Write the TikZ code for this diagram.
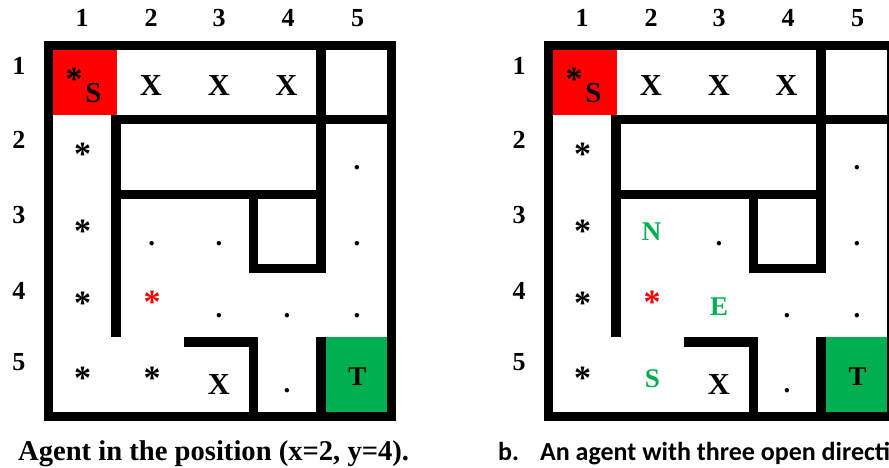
\documentclass[tikz,border=0pt]{standalone}
\usepackage{fontspec}
\setmainfont{Liberation Serif}
\newfontfamily\calfont{Carlito}
\definecolor{cellred}{HTML}{FF0000}
\definecolor{cellgreen}{HTML}{00B050}

\tikzset{
  wall/.style={fill=black},
  frame/.style={draw=black, line width=9.6pt},
  axislabel/.style={inner sep=0pt, font=\fontsize{26}{26}\selectfont\bfseries},
  glyph/.style={inner sep=0pt, font=\fontsize{27}{27}\selectfont\bfseries},
  bigx/.style={glyph, font=\fontsize{30.5}{30.5}\selectfont\bfseries},
  star/.style={glyph, anchor=north, font=\fontsize{34}{34}\selectfont\bfseries},
  caption/.style={inner sep=0pt, anchor=base west},
}

% One 5x5 maze with its walls, start/goal cells and the marks shared by both panels.
\newcommand\drawmaze[1]{%
  % start and goal cells
  \fill[cellred] (53.3,50) rectangle (116.7,115);
  \fill[cellgreen] (326,337.3) rectangle (386.7,411.7);
  % outer frame
  \draw[frame] (48.3,45.35) rectangle (391.35,416.35);
  % inner walls
  \fill[wall] (110.5,115) rectangle (386.7,124.5);
  \fill[wall] (110.5,115) rectangle (120.5,337.3);
  \fill[wall] (316.3,40.7) rectangle (326,273);
  \fill[wall] (110.5,190) rectangle (326,199.3);
  \fill[wall] (249,190) rectangle (258.3,273);
  \fill[wall] (249,263.5) rectangle (326,273);
  \fill[wall] (184.3,337.3) rectangle (258.3,346.7);
  \fill[wall] (249,337.3) rectangle (258.3,421);
  \fill[wall] (316.3,337.3) rectangle (326,421);
  % column and row numbers
  \foreach \i/\x in {1/82,2/151,3/219,4/288,5/357.5}
    \node[axislabel] (#1-col\i) at (\x,18.3) {\i};
  \foreach \i/\y in {1/65.5,2/140,3/215,4/291,5/362.5}
    \node[axislabel] (#1-row\i) at (19,\y) {\i};
  % start cell
  \node[star] (#1-startstar) at (74,68.3) {*};
  \node[glyph, anchor=base, font=\fontsize{29}{29}\selectfont\bfseries] (#1-startS) at (93.5,102.5) {S};
  % blocked cells
  \foreach \i/\x in {2/151,3/219,4/286.5}
    \node[bigx, anchor=base] (#1-x\i) at (\x,96) {X};
  \node[bigx, anchor=base] (#1-x5) at (219,394) {X};
  % goal
  \node[glyph, anchor=base] (#1-goal) at (357.5,385) {T};
  % visited path
  \foreach \r/\y in {2/143,3/220,4/292,5/367}
    \node[star] (#1-path\r) at (82.5,\y) {*};
  % agent
  \node[star, text=cellred] (#1-agent) at (152,291) {*};
  % unexplored cells
  \foreach \n/\x/\y in {a/357/168, b/219/243.3, c/357/243.3, d/287/316, e/357/316, f/287/390.7}
    \node[glyph] (#1-dot\n) at (\x,\y) {.};
}

\begin{document}
\begin{tikzpicture}[x=1pt,y=-1pt]
  \useasboundingbox (0,0) rectangle (889,468);
  \clip (0,0) rectangle (889,468);
  \fill[white] (0,0) rectangle (889,468);

  % left panel
  \drawmaze{L}
  \node[glyph] (L-dotg) at (151.7,243.3) {.};
  \node[glyph] (L-doth) at (219,316) {.};
  \node[star] (L-path6) at (152,367) {*};
  \node[caption, font=\fontsize{28.6}{28.6}\selectfont\bfseries] (capL) at (18,460)
    {Agent in the position (x=2, y=4).};

  % right panel
  \begin{scope}[xshift=500pt]
    \drawmaze{R}
  \end{scope}
  \node[glyph, anchor=base, text=cellgreen] (R-north) at (651.7,240) {N};
  \node[glyph, anchor=base, text=cellgreen] (R-east) at (719,315) {E};
  \node[glyph, anchor=base, text=cellgreen] (R-south) at (652.5,387.5) {S};
  \node[caption, font=\calfont\fontsize{26}{26}\selectfont\bfseries] (capR) at (498,460)
    {b.\hspace{21pt}An agent with three open directi};
\end{tikzpicture}
\end{document}
